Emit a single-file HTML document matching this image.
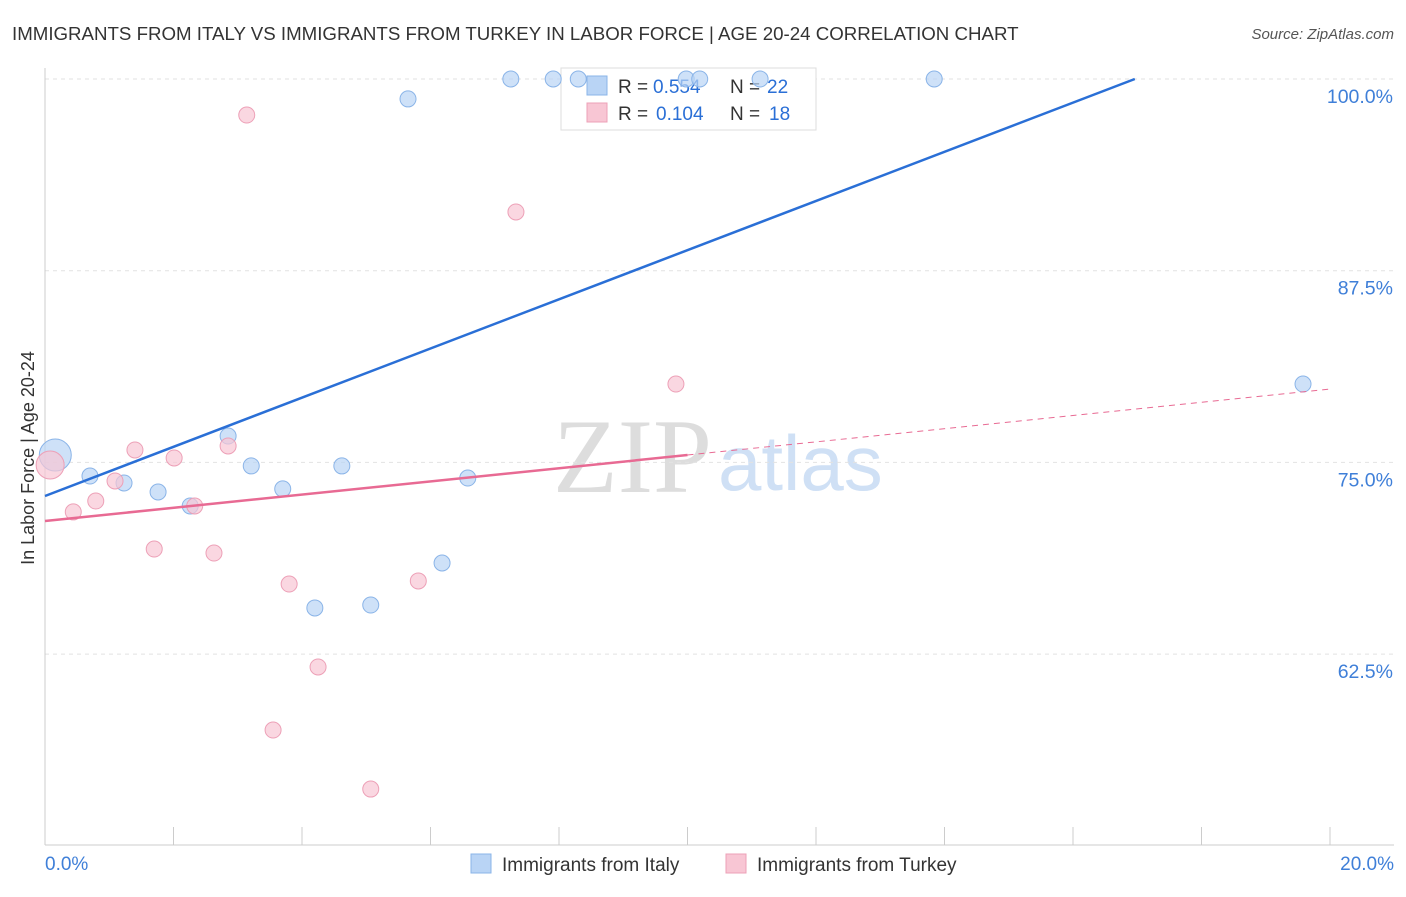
<!DOCTYPE html>
<html><head><meta charset="utf-8"><style>
body{margin:0;background:#fff;font-family:"Liberation Sans",sans-serif;}
</style></head><body>
<svg id="c" width="1406" height="892" xmlns="http://www.w3.org/2000/svg">
<text x="12" y="40" font-size="18.7" fill="#333">IMMIGRANTS FROM ITALY VS IMMIGRANTS FROM TURKEY IN LABOR FORCE | AGE 20-24 CORRELATION CHART</text>
<text x="1394" y="39" font-size="15" fill="#555" text-anchor="end" font-style="italic">Source: ZipAtlas.com</text>
<text x="34" y="458" font-size="18" fill="#333" text-anchor="middle" transform="rotate(-90 34 458)">In Labor Force | Age 20-24</text>
<text x="553" y="492" font-size="106" fill="#ddd" font-family="Liberation Serif,serif">ZIP</text>
<text x="718" y="490" font-size="78" fill="#cfe0f5">atlas</text>
<g id="grid"></g>
<g>
<rect x="561" y="68" width="255" height="62" fill="#fff" stroke="#ddd"/>
<rect x="587" y="76" width="20" height="19" fill="#b9d4f5" stroke="#8ab4e8"/>
<text x="618" y="93" font-size="19" fill="#333">R =</text><text x="653" y="93" font-size="19" fill="#2a6fd6">0.554</text>
<text x="730" y="93" font-size="19" fill="#333">N =</text><text x="767" y="93" font-size="19" fill="#2a6fd6">22</text>
<rect x="587" y="103" width="20" height="19" fill="#f8c6d4" stroke="#eda0b7"/>
<text x="618" y="120" font-size="19" fill="#333">R =</text><text x="656" y="120" font-size="19" fill="#2a6fd6">0.104</text>
<text x="730" y="120" font-size="19" fill="#333">N =</text><text x="769" y="120" font-size="19" fill="#2a6fd6">18</text>
</g>
<g id="pts"></g><g id="lines"></g>
<g><rect x="471" y="854" width="20" height="19" fill="#b9d4f5" stroke="#8ab4e8"/><text x="502" y="871" font-size="19" fill="#333">Immigrants from Italy</text></g>
<g><rect x="726" y="854" width="20" height="19" fill="#f8c6d4" stroke="#eda0b7"/><text x="757" y="871" font-size="19" fill="#333">Immigrants from Turkey</text></g>
</svg>
<script>
const italyX=[0.16,0.70,1.23,1.76,2.26,2.85,3.21,3.70,4.20,4.62,5.07,5.65,6.18,6.58,7.25,7.91,8.30,9.98,10.19,11.13,13.84,19.58];
const italyY=[75.48,74.11,73.66,73.07,72.16,76.72,74.77,73.27,65.51,74.77,65.70,98.70,68.44,73.98,100,100,100,100,100,100,100,80.11];
const turkeyX=[0.08,0.44,0.79,1.09,1.40,1.70,2.01,2.33,2.63,2.85,3.14,3.55,3.80,4.25,5.07,5.81,7.33,9.82];
const turkeyY=[74.83,71.77,72.48,73.79,75.81,69.35,75.29,72.16,69.09,76.07,97.65,57.55,67.07,61.66,53.70,67.27,91.33,80.11];
const yTicks=[100,87.5,75,62.5];
const yTickLabels=["100.0%","87.5%","75.0%","62.5%"];
const xTicks=[0,2,4,6,8,10,12,14,16,18,20];
const italyLine=[72.81,1.603];
const turkeyLine=[71.18,0.43];
const NS="http://www.w3.org/2000/svg";
const sx=v=>45+v*64.25, sy=v=>79+(100-v)*15.336;
function mk(t,a,p){const e=document.createElementNS(NS,t);for(const k in a)e.setAttribute(k,a[k]);p.appendChild(e);return e;}
const g=document.getElementById('grid');
yTicks.forEach((t,i)=>{const l=mk('line',{x1:45,x2:1394,y1:sy(t),y2:sy(t),stroke:'#e2e2e2','stroke-dasharray':'4,4'},g);


const tx=mk('text',{x:1393,y:sy(t)+24,'font-size':19.5,fill:'#3f7fd8','text-anchor':'end'},g);tx.textContent=yTickLabels[i];

});
mk('line',{x1:45,x2:45,y1:68,y2:845,stroke:'#ccc'},g);
mk('line',{x1:45,x2:1394,y1:845,y2:845,stroke:'#ccc'},g);
xTicks.forEach(t=>{const l=mk('line',{x1:sx(t),x2:sx(t),y1:827,y2:845,stroke:'#ccc'},g);

});
let a=mk('text',{x:45,y:870,'font-size':19,fill:'#3f7fd8'},g);a.textContent='0.0%';


a=mk('text',{x:1394,y:870,'font-size':19,fill:'#3f7fd8','text-anchor':'end'},g);a.textContent='20.0%';


const p=document.getElementById('pts');
italyX.forEach((x,i)=>{const c=mk('circle',{cx:sx(x),cy:sy(italyY[i]),r:i==0?16:8,fill:'#b9d4f5','fill-opacity':0.7,stroke:'#8ab4e8'},p);

});
turkeyX.forEach((x,i)=>{const c=mk('circle',{cx:sx(x),cy:sy(turkeyY[i]),r:i==0?14:8,fill:'#f8c6d4','fill-opacity':0.7,stroke:'#eda0b7'},p);

});
const L=document.getElementById('lines');
const xe=(100-italyLine[0])/italyLine[1];
let ln=mk('line',{x1:sx(0),y1:sy(italyLine[0]),x2:sx(xe),y2:sy(100),stroke:'#2a6fd6','stroke-width':2.5},L);


ln=mk('line',{x1:sx(0),y1:sy(turkeyLine[0]),x2:sx(10),y2:sy(turkeyLine[0]+10*turkeyLine[1]),stroke:'#e86a93','stroke-width':2.5},L);


ln=mk('line',{x1:sx(10),y1:sy(turkeyLine[0]+10*turkeyLine[1]),x2:sx(20),y2:sy(turkeyLine[0]+20*turkeyLine[1]),stroke:'#e86a93','stroke-width':1,'stroke-dasharray':'6,5'},L);


</script>
</body></html>
